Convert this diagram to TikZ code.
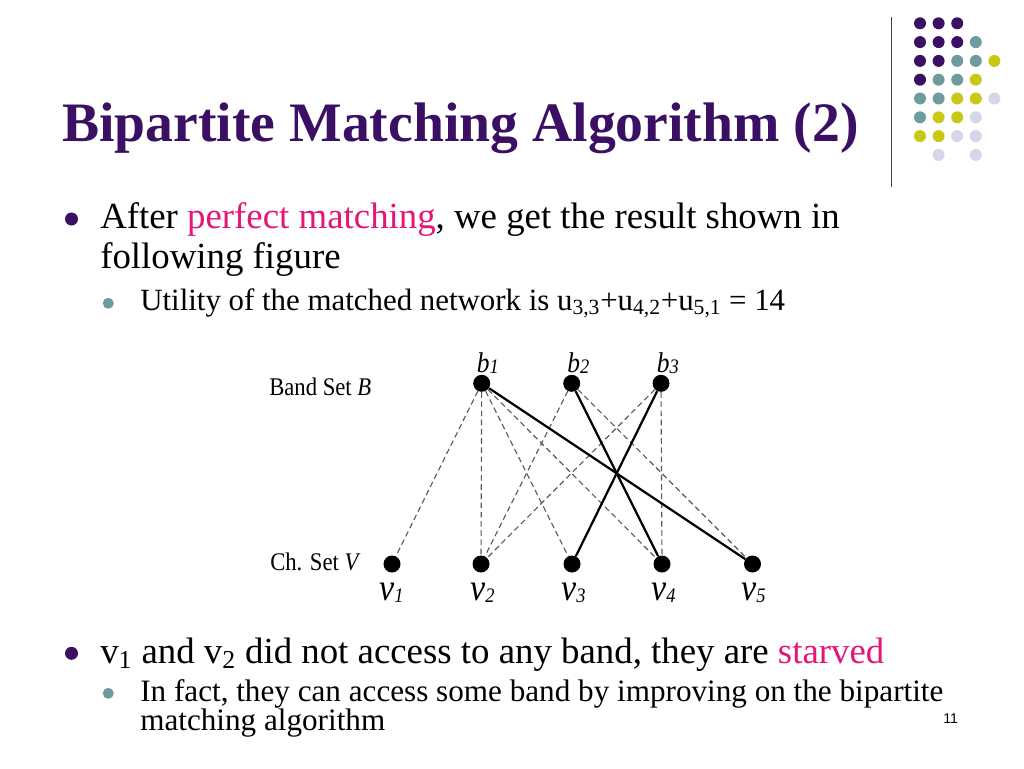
\documentclass[tikz,border=0pt]{standalone}
\usepackage{fontspec}
\usepackage{graphicx}
\setmainfont{Liberation Serif}
\newfontfamily\pagefont{Liberation Sans}
\definecolor{titlepurple}{RGB}{59,15,99}
\definecolor{hotpink}{RGB}{228,22,120}
\definecolor{tealdot}{RGB}{110,155,158}
\definecolor{olivedot}{RGB}{200,200,22}
\definecolor{lilacdot}{RGB}{214,214,234}
\definecolor{edgegray}{RGB}{90,90,90}
\newcommand{\tall}[1]{\scalebox{1}[1.12]{#1}}
\newcommand{\blbl}[2]{\textit{#1\raisebox{-0.15ex}{\fontsize{13}{13}\selectfont #2}}}

\begin{document}
\begin{tikzpicture}[x=0.024805cm, y=-0.024805cm,
	txt/.style={inner sep=0pt, anchor=base west},
	vertex/.style={circle, fill=black, inner sep=0pt, minimum size=12pt},
	option/.style={dash pattern=on 4pt off 2.5pt, line width=0.8pt, draw=edgegray},
	matched/.style={line width=0.55mm, draw=black}]
	\useasboundingbox (0,0) rectangle (1024,768);
	% logo dots and rule
	\draw[line width=0.7pt, draw=black!75] (891.5,17) -- (891.5,187);
	\foreach \c/\r/\col in {0/0/titlepurple,1/0/titlepurple,2/0/titlepurple,
		0/1/titlepurple,1/1/titlepurple,2/1/titlepurple,3/1/tealdot,
		0/2/titlepurple,1/2/titlepurple,2/2/tealdot,3/2/tealdot,4/2/olivedot,
		0/3/titlepurple,1/3/tealdot,2/3/tealdot,3/3/olivedot,
		0/4/tealdot,1/4/tealdot,2/4/olivedot,3/4/olivedot,4/4/lilacdot,
		0/5/tealdot,1/5/olivedot,2/5/olivedot,3/5/lilacdot,
		0/6/olivedot,1/6/olivedot,2/6/lilacdot,3/6/lilacdot,
		1/7/lilacdot,3/7/lilacdot}
		\fill[\col] (920+18.6*\c,23.3+18.8*\r) circle (6);
	% title and bullets
	\node[txt, text=titlepurple, font=\fontsize{39.3}{47}\selectfont\bfseries] (title) at (62,141) {Bipartite Matching Algorithm (2)};
	\fill[titlepurple] (71.5,219) circle (6.5);
	\node[txt, font=\fontsize{26}{31}\selectfont] (after) at (100,228) {After \textcolor{hotpink}{perfect matching}, we get the result shown in};
	\node[txt, font=\fontsize{26}{31}\selectfont] (after2) at (100,268) {following figure};
	\fill[tealdot] (108.3,303.3) circle (5.5);
	\node[txt, font=\fontsize{21.8}{26}\selectfont] (utility) at (140,310) {Utility of the matched network is u\textsubscript{3,3}+u\textsubscript{4,2}+u\textsubscript{5,1} = 14};
	\fill[titlepurple] (71.5,653.3) circle (6.5);
	\node[txt, font=\fontsize{26}{31}\selectfont] (starved) at (100,663) {v\textsubscript{1} and v\textsubscript{2} did not access to any band, they are \textcolor{hotpink}{starved}};
	\fill[tealdot] (108.3,693.3) circle (5.5);
	\node[txt, font=\fontsize{22}{26}\selectfont] (infact) at (140,701) {In fact, they can access some band by improving on the bipartite};
	\node[txt, font=\fontsize{22}{26}\selectfont] (infact2) at (140,730) {matching algorithm};
	\node[txt, font=\pagefont\fontsize{10}{12}\selectfont] (pagenum) at (943,723) {11};
	% bipartite graph
	\node[txt, font=\fontsize{16}{19}\selectfont] (bandset) at (269,395) {\tall{Band Set \textit{B}}};
	\node[txt, font=\fontsize{16}{19}\selectfont] (chset) at (270,570) {\tall{Ch. Set \textit{V}}};
	\node[vertex] (b1) at (481.7,383.3) {};
	\node[vertex] (b2) at (571.7,383.3) {};
	\node[vertex] (b3) at (661,383.3) {};
	\node[vertex] (v1) at (392,564) {};
	\node[vertex] (v2) at (481,564) {};
	\node[vertex] (v3) at (572,564) {};
	\node[vertex] (v4) at (662,564) {};
	\node[vertex] (v5) at (752.5,564) {};
	\node[txt, font=\fontsize{18}{22}\selectfont] (lb1) at (476.5,372) {\tall{\blbl{b}{1}}};
	\node[txt, font=\fontsize{18}{22}\selectfont] (lb2) at (567,372) {\tall{\blbl{b}{2}}};
	\node[txt, font=\fontsize{18}{22}\selectfont] (lb3) at (656.5,372) {\tall{\blbl{b}{3}}};
	\node[txt, font=\fontsize{24}{28}\selectfont] (lv1) at (379,600) {\tall{\blbl{v}{1}}};
	\node[txt, font=\fontsize{24}{28}\selectfont] (lv2) at (470,600) {\tall{\blbl{v}{2}}};
	\node[txt, font=\fontsize{24}{28}\selectfont] (lv3) at (561,600) {\tall{\blbl{v}{3}}};
	\node[txt, font=\fontsize{24}{28}\selectfont] (lv4) at (651,600) {\tall{\blbl{v}{4}}};
	\node[txt, font=\fontsize{24}{28}\selectfont] (lv5) at (741,600) {\tall{\blbl{v}{5}}};
	\draw[option] (b1) -- (v1);
	\draw[option] (b1) -- (v2);
	\draw[option] (b1) -- (v3);
	\draw[option] (b1) -- (v4);
	\draw[option] (b2) -- (v2);
	\draw[option] (b2) -- (v5);
	\draw[option] (b3) -- (v2);
	\draw[option] (b3) -- (v4);
	\draw[matched] (b1) -- (v5);
	\draw[matched] (b2) -- (v4);
	\draw[matched] (b3) -- (v3);
\end{tikzpicture}
\end{document}
